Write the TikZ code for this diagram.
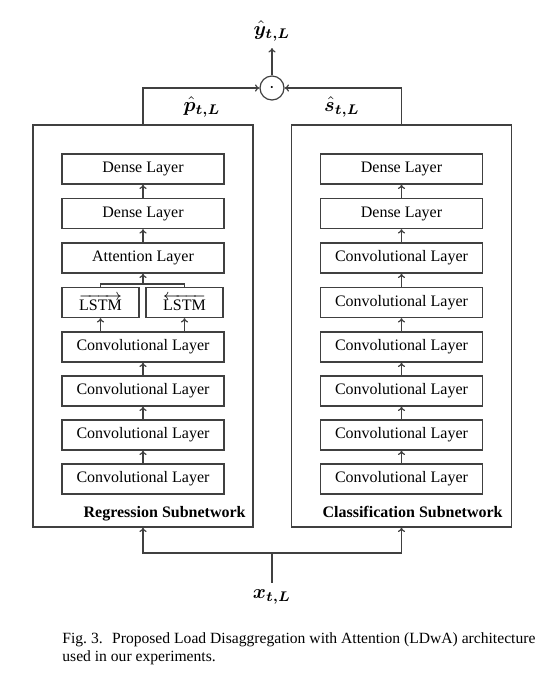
\documentclass[tikz,border=0pt]{standalone}
\usepackage{amsmath,amssymb,bm}
\usepackage{fontspec}
\setmainfont{Liberation Serif}
\usetikzlibrary{arrows.meta, positioning, calc}

\begin{document}
\begin{tikzpicture}[x=0.5pt, y=-0.5pt,
		layer/.style={draw=black!75, line width=0.6pt, minimum width=81pt, minimum height=15pt, inner sep=0pt, font=\fontsize{8}{9}\selectfont},
		lstm/.style={layer, minimum width=38.5pt},
		subnet/.style={draw=black!75, line width=0.6pt, minimum width=110pt, minimum height=201pt, inner sep=0pt},
		conn/.style={draw=black!75, line width=0.6pt},
		arr/.style={conn, -{To[length=2.2pt, width=3.6pt]}},
		lab/.style={inner sep=0pt, font=\fontsize{8}{9}\selectfont\bfseries},
		vec/.style={font=\fontsize{10}{12}\selectfont}
		]
		\useasboundingbox (0,0) rectangle (549,692);
		% subnetworks
		\node[subnet] (reg) at (143,326) {};
		\node[subnet] (cls) at (401.5,326) {};
		\node[lab, anchor=base east] (reglab) at (246,517) {Regression Subnetwork};
		\node[lab, anchor=base east] (clslab) at (503,517) {Classification Subnetwork};
		% regression layers
		\node[layer] (rd1) at (143,169) {Dense Layer};
		\node[layer] (rd2) at (143,213.5) {Dense Layer};
		\node[layer] (ratt) at (143,258) {Attention Layer};
		\node[lstm] (rlf) at (100.5,302.5) {$\overrightarrow{\text{LSTM}}$};
		\node[lstm] (rlb) at (184.5,302.5) {$\overleftarrow{\text{LSTM}}$};
		\foreach \i/\y in {1/347,2/391,3/435,4/479}
		\node[layer] (rc\i) at (143,\y) {Convolutional Layer};
		\foreach \i/\j in {2/1,3/2,4/3}
		\draw[arr] (rc\i) -- (rc\j);
		\draw[arr] (rc1.north -| rlf.south) -- (rlf.south);
		\draw[arr] (rc1.north -| rlb.south) -- (rlb.south);
		\coordinate (merge) at (143,284);
		\draw[conn] (rlf.north) |- (merge) -| (rlb.north);
		\draw[arr] (merge) -- (ratt.south);
		\draw[arr] (ratt) -- (rd2);
		\draw[arr] (rd2) -- (rd1);
		% classification layers
		\node[layer] (cd1) at (401.5,169) {Dense Layer};
		\node[layer] (cd2) at (401.5,213.5) {Dense Layer};
		\foreach \i/\y in {1/258,2/302.5,3/347,4/391,5/435,6/479}
		\node[layer] (cc\i) at (401.5,\y) {Convolutional Layer};
		\foreach \i/\j in {2/1,3/2,4/3,5/4,6/5}
		\draw[arr] (cc\i) -- (cc\j);
		\draw[arr] (cc1) -- (cd2);
		\draw[arr] (cd2) -- (cd1);
		% input
		\node[vec] (xin) at (272,597) {$\boldsymbol{x_{t,L}}$};
		\coordinate (split) at (272,553);
		\draw[conn] (xin) -- (split);
		\draw[arr] (split) -| (reg.south);
		\draw[arr] (split) -| (cls.south);
		% output
		\node[draw=black!75, line width=0.6pt, circle, minimum size=12pt, inner sep=0pt] (mul) at (272,88) {$\cdot$};
		\draw[arr] (reg.north) |- (mul.west);
		\draw[arr] (cls.north) |- (mul.east);
		\node[vec] (yhat) at (272,31) {$\boldsymbol{\hat{y}_{t,L}}$};
		\draw[arr] (mul) -- (yhat);
		\node[vec] (phat) at (202,107) {$\boldsymbol{\hat{p}_{t,L}}$};
		\node[vec] (shat) at (342,107) {$\boldsymbol{\hat{s}_{t,L}}$};
		% caption
		\node[anchor=north west, inner sep=0pt, text width=236.5pt, align=justify, font=\fontsize{7.8}{9.2}\selectfont] (cap) at (62,632) {\hyphenpenalty=10000 Fig.~3.\hspace{0.6em}Proposed Load Disaggregation with Attention (LDwA) architecture used in our experiments.};
	\end{tikzpicture}
\end{document}
